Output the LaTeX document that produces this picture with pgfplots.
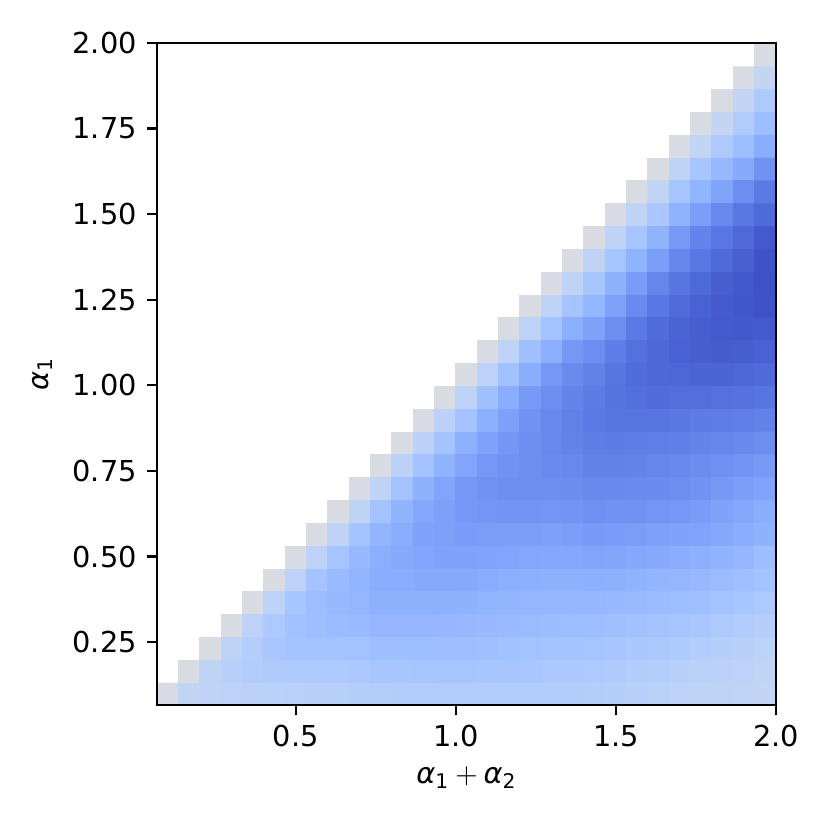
\documentclass[border=0pt]{standalone}
\usepackage{pgfplots}
\pgfplotsset{compat=1.18}
\usepackage{fontspec}
\setmainfont{DejaVu Sans}
\pgfplotsset{colormap={cwblue}{
rgb255(0pt)=(255,255,255)
rgb255(1pt)=(221,221,221)
rgb255(2pt)=(213,219,230)
rgb255(3pt)=(204,217,238)
rgb255(4pt)=(194,213,244)
rgb255(5pt)=(184,208,249)
rgb255(6pt)=(174,201,253)
rgb255(7pt)=(163,194,255)
rgb255(8pt)=(152,185,255)
rgb255(9pt)=(141,176,254)
rgb255(10pt)=(130,165,251)
rgb255(11pt)=(119,154,247)
rgb255(12pt)=(108,142,241)
rgb255(13pt)=(98,130,234)
rgb255(14pt)=(87,117,225)
rgb255(15pt)=(77,104,215)
rgb255(16pt)=(68,90,204)
rgb255(17pt)=(59,76,192)}}
\begin{document}
\begin{tikzpicture}
\path[use as bounding box] (-54.5pt,-43.4pt) rectangle (233.5pt,244.6pt);
\begin{axis}[
  at={(0,0)}, anchor=south west,
  scale only axis, width=214.8pt, height=229.7pt,
  xmin=0.5, xmax=29.5, ymin=0.5, ymax=29.5,
  colormap name=cwblue, point meta min=-1, point meta max=16,
  axis on top,
  tick align=outside, major tick length=3.5pt,
  xtick pos=bottom, ytick pos=left,
  axis line style={line width=0.8pt},
  every tick/.style={black, line width=0.8pt},
  xtick={7,14.5,22,29.5},
  xticklabels={\textrm{0.5},\textrm{1.0},\textrm{1.5},\textrm{2.0}},
  ytick={3.25,7,10.75,14.5,18.25,22,25.75,29.5},
  yticklabels={\textrm{0.25},\textrm{0.50},\textrm{0.75},\textrm{1.00},\textrm{1.25},\textrm{1.50},\textrm{1.75},\textrm{2.00}},
  xlabel={\textit{α}\textsubscript{1}\kern0.2em$+$\kern0.2em\textit{α}\textsubscript{2}},
  ylabel={\textit{α}\textsubscript{1}},
  tick label style={font=\fontsize{10}{12}\selectfont},
  label style={font=\fontsize{10}{12}\selectfont},
]
\addplot[matrix plot*, mesh/cols=29, point meta=explicit] table[row sep=\\, meta=m] {
c r m\\
1 1 0.6\\ 2 1 3.1\\ 3 1 3.4\\ 4 1 3.6\\ 5 1 3.7\\ 6 1 3.8\\ 7 1 3.9\\ 8 1 4.0\\ 9 1 4.1\\ 10 1 4.2\\ 11 1 4.4\\ 12 1 4.5\\ 13 1 4.6\\ 14 1 4.7\\ 15 1 4.7\\ 16 1 4.7\\ 17 1 4.7\\ 18 1 4.6\\ 19 1 4.6\\ 20 1 4.5\\ 21 1 4.4\\ 22 1 4.2\\ 23 1 4.0\\ 24 1 3.8\\ 25 1 3.6\\ 26 1 3.4\\ 27 1 3.3\\ 28 1 3.2\\ 29 1 3.0\\
1 2 -1\\ 2 2 0.6\\ 3 2 3.3\\ 4 2 4.1\\ 5 2 4.6\\ 6 2 4.8\\ 7 2 4.9\\ 8 2 5.0\\ 9 2 5.0\\ 10 2 5.2\\ 11 2 5.5\\ 12 2 5.6\\ 13 2 5.7\\ 14 2 5.7\\ 15 2 5.7\\ 16 2 5.6\\ 17 2 5.5\\ 18 2 5.4\\ 19 2 5.2\\ 20 2 5.1\\ 21 2 5.0\\ 22 2 4.8\\ 23 2 4.6\\ 24 2 4.4\\ 25 2 4.1\\ 26 2 3.9\\ 27 2 3.7\\ 28 2 3.5\\ 29 2 3.2\\
1 3 -1\\ 2 3 -1\\ 3 3 0.6\\ 4 3 3.4\\ 5 3 4.4\\ 6 3 5.4\\ 7 3 5.8\\ 8 3 6.0\\ 9 3 6.0\\ 10 3 6.0\\ 11 3 6.4\\ 12 3 6.5\\ 13 3 6.5\\ 14 3 6.4\\ 15 3 6.4\\ 16 3 6.3\\ 17 3 6.1\\ 18 3 6.0\\ 19 3 5.9\\ 20 3 5.8\\ 21 3 5.7\\ 22 3 5.5\\ 23 3 5.3\\ 24 3 5.1\\ 25 3 4.9\\ 26 3 4.6\\ 27 3 4.3\\ 28 3 4.0\\ 29 3 3.6\\
1 4 -1\\ 2 4 -1\\ 3 4 -1\\ 4 4 0.6\\ 5 4 3.5\\ 6 4 5.0\\ 7 4 6.1\\ 8 4 6.5\\ 9 4 6.8\\ 10 4 6.9\\ 11 4 7.3\\ 12 4 7.3\\ 13 4 7.3\\ 14 4 7.2\\ 15 4 7.1\\ 16 4 7.0\\ 17 4 6.9\\ 18 4 6.8\\ 19 4 6.7\\ 20 4 6.6\\ 21 4 6.5\\ 22 4 6.3\\ 23 4 6.1\\ 24 4 5.9\\ 25 4 5.7\\ 26 4 5.4\\ 27 4 5.0\\ 28 4 4.7\\ 29 4 4.3\\
1 5 -1\\ 2 5 -1\\ 3 5 -1\\ 4 5 -1\\ 5 5 0.6\\ 6 5 3.6\\ 7 5 5.6\\ 8 5 6.6\\ 9 5 7.1\\ 10 5 7.4\\ 11 5 7.9\\ 12 5 7.9\\ 13 5 7.9\\ 14 5 7.9\\ 15 5 7.8\\ 16 5 7.6\\ 17 5 7.5\\ 18 5 7.4\\ 19 5 7.3\\ 20 5 7.2\\ 21 5 7.2\\ 22 5 7.0\\ 23 5 6.9\\ 24 5 6.7\\ 25 5 6.5\\ 26 5 6.3\\ 27 5 6.0\\ 28 5 5.6\\ 29 5 5.0\\
1 6 -1\\ 2 6 -1\\ 3 6 -1\\ 4 6 -1\\ 5 6 -1\\ 6 6 0.6\\ 7 6 3.5\\ 8 6 5.8\\ 9 6 6.9\\ 10 6 7.6\\ 11 6 8.3\\ 12 6 8.4\\ 13 6 8.6\\ 14 6 8.6\\ 15 6 8.6\\ 16 6 8.4\\ 17 6 8.2\\ 18 6 8.0\\ 19 6 7.9\\ 20 6 7.9\\ 21 6 8.0\\ 22 6 7.9\\ 23 6 7.7\\ 24 6 7.5\\ 25 6 7.3\\ 26 6 7.1\\ 27 6 6.8\\ 28 6 6.3\\ 29 6 5.8\\
1 7 -1\\ 2 7 -1\\ 3 7 -1\\ 4 7 -1\\ 5 7 -1\\ 6 7 -1\\ 7 7 0.6\\ 8 7 3.5\\ 9 7 5.7\\ 10 7 7.0\\ 11 7 8.2\\ 12 7 8.6\\ 13 7 9.0\\ 14 7 9.2\\ 15 7 9.2\\ 16 7 9.1\\ 17 7 9.0\\ 18 7 8.8\\ 19 7 8.7\\ 20 7 8.8\\ 21 7 9.0\\ 22 7 8.9\\ 23 7 8.7\\ 24 7 8.5\\ 25 7 8.3\\ 26 7 8.0\\ 27 7 7.7\\ 28 7 7.2\\ 29 7 6.5\\
1 8 -1\\ 2 8 -1\\ 3 8 -1\\ 4 8 -1\\ 5 8 -1\\ 6 8 -1\\ 7 8 -1\\ 8 8 0.6\\ 9 8 3.4\\ 10 8 5.8\\ 11 8 7.5\\ 12 8 8.4\\ 13 8 9.2\\ 14 8 9.5\\ 15 8 9.8\\ 16 8 9.7\\ 17 8 9.6\\ 18 8 9.6\\ 19 8 9.5\\ 20 8 9.6\\ 21 8 9.9\\ 22 8 9.8\\ 23 8 9.7\\ 24 8 9.5\\ 25 8 9.3\\ 26 8 9.1\\ 27 8 8.7\\ 28 8 8.3\\ 29 8 7.8\\
1 9 -1\\ 2 9 -1\\ 3 9 -1\\ 4 9 -1\\ 5 9 -1\\ 6 9 -1\\ 7 9 -1\\ 8 9 -1\\ 9 9 0.6\\ 10 9 3.3\\ 11 9 6.0\\ 12 9 7.7\\ 13 9 8.8\\ 14 9 9.5\\ 15 9 10.2\\ 16 9 10.4\\ 17 9 10.5\\ 18 9 10.5\\ 19 9 10.4\\ 20 9 10.5\\ 21 9 10.8\\ 22 9 10.7\\ 23 9 10.6\\ 24 9 10.4\\ 25 9 10.2\\ 26 9 9.8\\ 27 9 9.3\\ 28 9 8.8\\ 29 9 8.3\\
1 10 -1\\ 2 10 -1\\ 3 10 -1\\ 4 10 -1\\ 5 10 -1\\ 6 10 -1\\ 7 10 -1\\ 8 10 -1\\ 9 10 -1\\ 10 10 0.6\\ 11 10 3.3\\ 12 10 6.0\\ 13 10 7.8\\ 14 10 9.0\\ 15 10 10.2\\ 16 10 10.6\\ 17 10 11.0\\ 18 10 11.0\\ 19 10 11.0\\ 20 10 11.1\\ 21 10 11.4\\ 22 10 11.4\\ 23 10 11.3\\ 24 10 11.2\\ 25 10 11.0\\ 26 10 10.6\\ 27 10 10.1\\ 28 10 9.6\\ 29 10 9.1\\
1 11 -1\\ 2 11 -1\\ 3 11 -1\\ 4 11 -1\\ 5 11 -1\\ 6 11 -1\\ 7 11 -1\\ 8 11 -1\\ 9 11 -1\\ 10 11 -1\\ 11 11 0.6\\ 12 11 3.7\\ 13 11 6.0\\ 14 11 7.7\\ 15 11 9.0\\ 16 11 10.2\\ 17 11 10.7\\ 18 11 11.0\\ 19 11 11.3\\ 20 11 11.5\\ 21 11 12.0\\ 22 11 12.0\\ 23 11 11.9\\ 24 11 11.7\\ 25 11 11.5\\ 26 11 11.1\\ 27 11 10.8\\ 28 11 10.5\\ 29 11 10.0\\
1 12 -1\\ 2 12 -1\\ 3 12 -1\\ 4 12 -1\\ 5 12 -1\\ 6 12 -1\\ 7 12 -1\\ 8 12 -1\\ 9 12 -1\\ 10 12 -1\\ 11 12 -1\\ 12 12 0.6\\ 13 12 3.7\\ 14 12 5.9\\ 15 12 7.9\\ 16 12 9.3\\ 17 12 10.3\\ 18 12 11.0\\ 19 12 11.5\\ 20 12 11.9\\ 21 12 12.4\\ 22 12 12.5\\ 23 12 12.4\\ 24 12 12.3\\ 25 12 12.2\\ 26 12 11.8\\ 27 12 11.7\\ 28 12 11.4\\ 29 12 11.0\\
1 13 -1\\ 2 13 -1\\ 3 13 -1\\ 4 13 -1\\ 5 13 -1\\ 6 13 -1\\ 7 13 -1\\ 8 13 -1\\ 9 13 -1\\ 10 13 -1\\ 11 13 -1\\ 12 13 -1\\ 13 13 0.6\\ 14 13 3.7\\ 15 13 6.0\\ 16 13 8.0\\ 17 13 9.5\\ 18 13 10.7\\ 19 13 11.5\\ 20 13 12.1\\ 21 13 12.6\\ 22 13 12.9\\ 23 13 12.9\\ 24 13 12.9\\ 25 13 12.8\\ 26 13 12.5\\ 27 13 12.4\\ 28 13 12.3\\ 29 13 12.0\\
1 14 -1\\ 2 14 -1\\ 3 14 -1\\ 4 14 -1\\ 5 14 -1\\ 6 14 -1\\ 7 14 -1\\ 8 14 -1\\ 9 14 -1\\ 10 14 -1\\ 11 14 -1\\ 12 14 -1\\ 13 14 -1\\ 14 14 0.6\\ 15 14 3.6\\ 16 14 6.2\\ 17 14 8.3\\ 18 14 10.0\\ 19 14 11.0\\ 20 14 11.8\\ 21 14 12.5\\ 22 14 13.0\\ 23 14 13.4\\ 24 14 13.6\\ 25 14 13.5\\ 26 14 13.5\\ 27 14 13.3\\ 28 14 13.2\\ 29 14 12.9\\
1 15 -1\\ 2 15 -1\\ 3 15 -1\\ 4 15 -1\\ 5 15 -1\\ 6 15 -1\\ 7 15 -1\\ 8 15 -1\\ 9 15 -1\\ 10 15 -1\\ 11 15 -1\\ 12 15 -1\\ 13 15 -1\\ 14 15 -1\\ 15 15 0.6\\ 16 15 3.6\\ 17 15 6.1\\ 18 15 8.3\\ 19 15 10.2\\ 20 15 11.3\\ 21 15 12.0\\ 22 15 12.9\\ 23 15 13.6\\ 24 15 14.0\\ 25 15 14.1\\ 26 15 14.2\\ 27 15 14.2\\ 28 15 14.0\\ 29 15 13.8\\
1 16 -1\\ 2 16 -1\\ 3 16 -1\\ 4 16 -1\\ 5 16 -1\\ 6 16 -1\\ 7 16 -1\\ 8 16 -1\\ 9 16 -1\\ 10 16 -1\\ 11 16 -1\\ 12 16 -1\\ 13 16 -1\\ 14 16 -1\\ 15 16 -1\\ 16 16 0.6\\ 17 16 3.5\\ 18 16 6.2\\ 19 16 8.0\\ 20 16 10.2\\ 21 16 11.0\\ 22 16 12.4\\ 23 16 13.3\\ 24 16 14.0\\ 25 16 14.5\\ 26 16 14.7\\ 27 16 14.8\\ 28 16 14.7\\ 29 16 14.4\\
1 17 -1\\ 2 17 -1\\ 3 17 -1\\ 4 17 -1\\ 5 17 -1\\ 6 17 -1\\ 7 17 -1\\ 8 17 -1\\ 9 17 -1\\ 10 17 -1\\ 11 17 -1\\ 12 17 -1\\ 13 17 -1\\ 14 17 -1\\ 15 17 -1\\ 16 17 -1\\ 17 17 0.6\\ 18 17 3.6\\ 19 17 6.0\\ 20 17 8.2\\ 21 17 9.4\\ 22 17 11.0\\ 23 17 12.6\\ 24 17 13.6\\ 25 17 14.3\\ 26 17 14.7\\ 27 17 15.0\\ 28 17 15.1\\ 29 17 15.0\\
1 18 -1\\ 2 18 -1\\ 3 18 -1\\ 4 18 -1\\ 5 18 -1\\ 6 18 -1\\ 7 18 -1\\ 8 18 -1\\ 9 18 -1\\ 10 18 -1\\ 11 18 -1\\ 12 18 -1\\ 13 18 -1\\ 14 18 -1\\ 15 18 -1\\ 16 18 -1\\ 17 18 -1\\ 18 18 0.6\\ 19 18 3.4\\ 20 18 5.7\\ 21 18 7.4\\ 22 18 9.4\\ 23 18 11.3\\ 24 18 12.8\\ 25 18 13.7\\ 26 18 14.4\\ 27 18 14.9\\ 28 18 15.3\\ 29 18 15.5\\
1 19 -1\\ 2 19 -1\\ 3 19 -1\\ 4 19 -1\\ 5 19 -1\\ 6 19 -1\\ 7 19 -1\\ 8 19 -1\\ 9 19 -1\\ 10 19 -1\\ 11 19 -1\\ 12 19 -1\\ 13 19 -1\\ 14 19 -1\\ 15 19 -1\\ 16 19 -1\\ 17 19 -1\\ 18 19 -1\\ 19 19 0.6\\ 20 19 3.3\\ 21 19 5.6\\ 22 19 7.8\\ 23 19 9.8\\ 24 19 11.7\\ 25 19 12.9\\ 26 19 13.9\\ 27 19 14.7\\ 28 19 15.1\\ 29 19 15.6\\
1 20 -1\\ 2 20 -1\\ 3 20 -1\\ 4 20 -1\\ 5 20 -1\\ 6 20 -1\\ 7 20 -1\\ 8 20 -1\\ 9 20 -1\\ 10 20 -1\\ 11 20 -1\\ 12 20 -1\\ 13 20 -1\\ 14 20 -1\\ 15 20 -1\\ 16 20 -1\\ 17 20 -1\\ 18 20 -1\\ 19 20 -1\\ 20 20 0.6\\ 21 20 3.3\\ 22 20 5.7\\ 23 20 7.7\\ 24 20 9.6\\ 25 20 11.6\\ 26 20 12.8\\ 27 20 13.8\\ 28 20 14.6\\ 29 20 15.5\\
1 21 -1\\ 2 21 -1\\ 3 21 -1\\ 4 21 -1\\ 5 21 -1\\ 6 21 -1\\ 7 21 -1\\ 8 21 -1\\ 9 21 -1\\ 10 21 -1\\ 11 21 -1\\ 12 21 -1\\ 13 21 -1\\ 14 21 -1\\ 15 21 -1\\ 16 21 -1\\ 17 21 -1\\ 18 21 -1\\ 19 21 -1\\ 20 21 -1\\ 21 21 0.6\\ 22 21 3.4\\ 23 21 5.6\\ 24 21 7.7\\ 25 21 10.0\\ 26 21 11.8\\ 27 21 12.8\\ 28 21 13.9\\ 29 21 15.0\\
1 22 -1\\ 2 22 -1\\ 3 22 -1\\ 4 22 -1\\ 5 22 -1\\ 6 22 -1\\ 7 22 -1\\ 8 22 -1\\ 9 22 -1\\ 10 22 -1\\ 11 22 -1\\ 12 22 -1\\ 13 22 -1\\ 14 22 -1\\ 15 22 -1\\ 16 22 -1\\ 17 22 -1\\ 18 22 -1\\ 19 22 -1\\ 20 22 -1\\ 21 22 -1\\ 22 22 0.6\\ 23 22 3.3\\ 24 22 5.3\\ 25 22 7.7\\ 26 22 9.6\\ 27 22 11.4\\ 28 22 12.8\\ 29 22 13.8\\
1 23 -1\\ 2 23 -1\\ 3 23 -1\\ 4 23 -1\\ 5 23 -1\\ 6 23 -1\\ 7 23 -1\\ 8 23 -1\\ 9 23 -1\\ 10 23 -1\\ 11 23 -1\\ 12 23 -1\\ 13 23 -1\\ 14 23 -1\\ 15 23 -1\\ 16 23 -1\\ 17 23 -1\\ 18 23 -1\\ 19 23 -1\\ 20 23 -1\\ 21 23 -1\\ 22 23 -1\\ 23 23 0.6\\ 24 23 3.2\\ 25 23 5.7\\ 26 23 7.6\\ 27 23 9.1\\ 28 23 11.0\\ 29 23 12.6\\
1 24 -1\\ 2 24 -1\\ 3 24 -1\\ 4 24 -1\\ 5 24 -1\\ 6 24 -1\\ 7 24 -1\\ 8 24 -1\\ 9 24 -1\\ 10 24 -1\\ 11 24 -1\\ 12 24 -1\\ 13 24 -1\\ 14 24 -1\\ 15 24 -1\\ 16 24 -1\\ 17 24 -1\\ 18 24 -1\\ 19 24 -1\\ 20 24 -1\\ 21 24 -1\\ 22 24 -1\\ 23 24 -1\\ 24 24 0.6\\ 25 24 3.3\\ 26 24 5.5\\ 27 24 7.1\\ 28 24 8.5\\ 29 24 10.6\\
1 25 -1\\ 2 25 -1\\ 3 25 -1\\ 4 25 -1\\ 5 25 -1\\ 6 25 -1\\ 7 25 -1\\ 8 25 -1\\ 9 25 -1\\ 10 25 -1\\ 11 25 -1\\ 12 25 -1\\ 13 25 -1\\ 14 25 -1\\ 15 25 -1\\ 16 25 -1\\ 17 25 -1\\ 18 25 -1\\ 19 25 -1\\ 20 25 -1\\ 21 25 -1\\ 22 25 -1\\ 23 25 -1\\ 24 25 -1\\ 25 25 0.6\\ 26 25 3.0\\ 27 25 5.0\\ 28 25 6.5\\ 29 25 8.3\\
1 26 -1\\ 2 26 -1\\ 3 26 -1\\ 4 26 -1\\ 5 26 -1\\ 6 26 -1\\ 7 26 -1\\ 8 26 -1\\ 9 26 -1\\ 10 26 -1\\ 11 26 -1\\ 12 26 -1\\ 13 26 -1\\ 14 26 -1\\ 15 26 -1\\ 16 26 -1\\ 17 26 -1\\ 18 26 -1\\ 19 26 -1\\ 20 26 -1\\ 21 26 -1\\ 22 26 -1\\ 23 26 -1\\ 24 26 -1\\ 25 26 -1\\ 26 26 0.6\\ 27 26 2.9\\ 28 26 4.7\\ 29 26 6.5\\
1 27 -1\\ 2 27 -1\\ 3 27 -1\\ 4 27 -1\\ 5 27 -1\\ 6 27 -1\\ 7 27 -1\\ 8 27 -1\\ 9 27 -1\\ 10 27 -1\\ 11 27 -1\\ 12 27 -1\\ 13 27 -1\\ 14 27 -1\\ 15 27 -1\\ 16 27 -1\\ 17 27 -1\\ 18 27 -1\\ 19 27 -1\\ 20 27 -1\\ 21 27 -1\\ 22 27 -1\\ 23 27 -1\\ 24 27 -1\\ 25 27 -1\\ 26 27 -1\\ 27 27 0.6\\ 28 27 2.9\\ 29 27 5.0\\
1 28 -1\\ 2 28 -1\\ 3 28 -1\\ 4 28 -1\\ 5 28 -1\\ 6 28 -1\\ 7 28 -1\\ 8 28 -1\\ 9 28 -1\\ 10 28 -1\\ 11 28 -1\\ 12 28 -1\\ 13 28 -1\\ 14 28 -1\\ 15 28 -1\\ 16 28 -1\\ 17 28 -1\\ 18 28 -1\\ 19 28 -1\\ 20 28 -1\\ 21 28 -1\\ 22 28 -1\\ 23 28 -1\\ 24 28 -1\\ 25 28 -1\\ 26 28 -1\\ 27 28 -1\\ 28 28 0.6\\ 29 28 2.9\\
1 29 -1\\ 2 29 -1\\ 3 29 -1\\ 4 29 -1\\ 5 29 -1\\ 6 29 -1\\ 7 29 -1\\ 8 29 -1\\ 9 29 -1\\ 10 29 -1\\ 11 29 -1\\ 12 29 -1\\ 13 29 -1\\ 14 29 -1\\ 15 29 -1\\ 16 29 -1\\ 17 29 -1\\ 18 29 -1\\ 19 29 -1\\ 20 29 -1\\ 21 29 -1\\ 22 29 -1\\ 23 29 -1\\ 24 29 -1\\ 25 29 -1\\ 26 29 -1\\ 27 29 -1\\ 28 29 -1\\ 29 29 0.6\\
};
\end{axis}
\end{tikzpicture}
\end{document}
